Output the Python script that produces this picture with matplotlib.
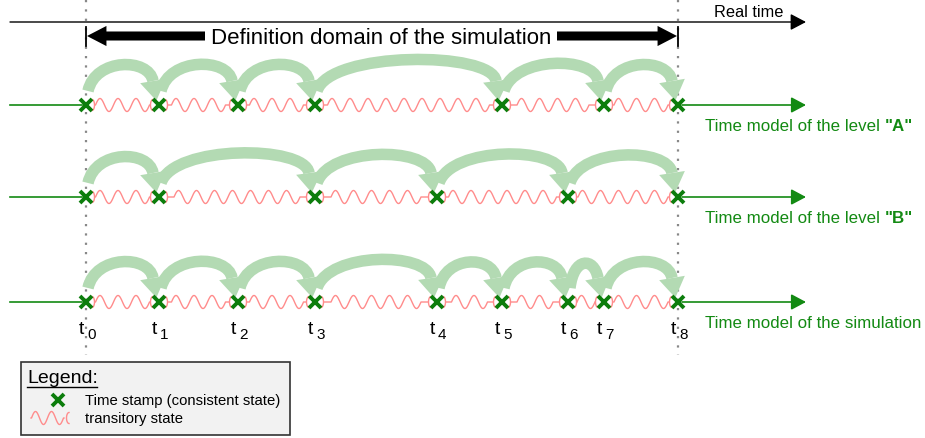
import numpy as np
import matplotlib
matplotlib.use('Agg')
import matplotlib.pyplot as plt
from matplotlib.path import Path
from matplotlib.patches import FancyArrowPatch, Rectangle, Polygon, PathPatch

plt.rcParams['font.family'] = ['Liberation Sans', 'DejaVu Sans']

# time stamps t0..t8 (on the real time axis, pixel-like units)
t_pos = [86, 159, 238, 315, 437, 502, 568, 604, 678]
t_names = ['0', '1', '2', '3', '4', '5', '6', '7', '8']

# which time stamps each time model uses
level_a = [0, 1, 2, 3, 5, 7, 8]
level_b = [0, 1, 3, 4, 6, 8]
level_sim = [0, 1, 2, 3, 4, 5, 6, 7, 8]

rows = [
    (level_a, 105, 'Time model of the level ', '"A"'),
    (level_b, 197, 'Time model of the level ', '"B"'),
    (level_sim, 302, 'Time model of the simulation', ''),
]

GREEN = '#138a13'
XGREEN = '#0c7d0c'
LGREEN = '#b3dab3'
RED = '#ff8c8c'


def paren(ax, x, y, side, **kw):
    # small "(" or ")" bracket next to a time stamp
    th = np.linspace(-np.pi / 2, np.pi / 2, 20)
    ax.plot(x + side * 2.5 * np.cos(th), y + 5.5 * np.sin(th), **kw)


def wave(ax, x0, x1, y, period=18.0, amp=6.5, **kw):
    n = max(1, int((x1 - x0) / period))
    w = min(n * period, x1 - x0)
    a = x0 + (x1 - x0 - w) / 2
    xs = np.linspace(a, a + w, 40 * n)
    ys = y - amp * np.sin(2 * np.pi * n * (xs - a) / w)
    ax.plot(np.r_[x0, xs, x1], np.r_[y, ys, y], **kw)


def jump(ax, xa, xb, y):
    # green "jump" arrow from one time stamp to the next
    d = xb - xa
    h = 43 + 0.06 * d
    p0 = np.array([xa + 2.0, y - 14.0])
    p3 = np.array([xb - 6.0, y - 24.0])
    p1 = np.array([xa + 2.0 + min(0.1 * d, 12), y - h])
    p2 = np.array([xb - 10.0, y - h])
    p = Path([p0, p1, p2, p3], [Path.MOVETO, Path.CURVE4, Path.CURVE4, Path.CURVE4])
    ax.add_patch(PathPatch(p, fill=False, edgecolor=LGREEN, lw=8.3, capstyle='butt', zorder=2))
    u = (p3 - p2) / np.hypot(*(p3 - p2))
    n = np.array([-u[1], u[0]])
    tip = p3 + u * 20
    ax.add_patch(Polygon([p3 + n * 13, tip, p3 - n * 13], closed=True,
                         facecolor=LGREEN, edgecolor='none', zorder=2))


fig = plt.figure(figsize=(9.25, 4.38), dpi=100)
ax = fig.add_axes([0, 0, 1, 1])
ax.set_xlim(0, 925)
ax.set_ylim(438, 0)
ax.axis('off')

# domain borders
for x in (t_pos[0], t_pos[-1]):
    ax.plot([x, x], [0, 355], color='#888888', lw=1.6, ls=(0, (1, 3.2)), zorder=1)

# real time axis
ax.add_patch(FancyArrowPatch((10, 22), (806, 22), arrowstyle='-|>,head_length=9.5,head_width=5',
                             mutation_scale=1, color='black', lw=1, shrinkA=0, shrinkB=0))
ax.text(714, 17, 'Real time', fontsize=11.8, ha='left', va='baseline')

# definition domain of the simulation
ax.text(381, 44, 'Definition domain of the simulation', fontsize=16, ha='center', va='baseline')
for xa, xb in ((205, t_pos[0] + 1), (557, t_pos[-1] - 1)):
    ax.add_patch(FancyArrowPatch((xa, 36), (xb, 36),
                                 arrowstyle='simple,head_length=14,head_width=14.5,tail_width=6.5',
                                 mutation_scale=1, color='black', lw=0, shrinkA=0, shrinkB=0))
for x in (t_pos[0], t_pos[-1]):
    ax.plot([x, x], [27, 46], color='black', lw=1.3)

for idx, y, label, bold in rows:
    xs = [t_pos[i] for i in idx]
    ax.plot([10, xs[0] - 4], [y, y], color=GREEN, lw=1.2, zorder=3)
    ax.add_patch(FancyArrowPatch((xs[-1] + 4, y), (806, y), arrowstyle='-|>,head_length=9,head_width=4.8',
                                 mutation_scale=1, color=GREEN, lw=1.2, shrinkA=0, shrinkB=0, zorder=3))
    for xa, xb in zip(xs[:-1], xs[1:]):
        paren(ax, xa + 6, y, 1, color=RED, lw=1)
        paren(ax, xb - 6, y, -1, color=RED, lw=1)
        wave(ax, xa + 9, xb - 9, y, color=RED, lw=1)
        jump(ax, xa, xb, y)
    ax.plot(xs, [y] * len(xs), ls='none', marker='x', ms=8, mew=2.8, color=XGREEN, zorder=4)
    t = ax.text(705, y + 26, label, fontsize=12.2, color=GREEN, ha='left', va='baseline')
    if bold:
        ax.annotate(bold, xy=(1, 0), xycoords=t, fontsize=12.2, color=GREEN,
                    fontweight='bold', ha='left', va='bottom')

# time stamp names under the simulation row
for x, n in zip(t_pos, t_names):
    ax.text(x - 2, 334, 't', fontsize=14, ha='right', va='baseline')
    ax.text(x + 1, 339, n, fontsize=11, ha='left', va='baseline')

# legend
ax.add_patch(Rectangle((21, 362), 269, 73, facecolor='#f2f2f2', edgecolor='#333333', lw=1.2, zorder=1))
ax.text(27, 383, 'Legend:', fontsize=14, ha='left', va='baseline')
ax.plot([27, 97], [386.5, 386.5], color='black', lw=1)
ax.plot([58], [400], ls='none', marker='x', ms=8, mew=2.8, color=XGREEN)
ax.text(85, 404.5, 'Time stamp (consistent state)', fontsize=10.7, ha='left', va='baseline')
wave(ax, 31, 64, 418, period=16, amp=6.5, color=RED, lw=1)
paren(ax, 69, 418, -1, color=RED, lw=1)
ax.text(85, 423.5, 'transitory state', fontsize=10.7, ha='left', va='baseline')

fig.savefig('out.png', dpi=100)
